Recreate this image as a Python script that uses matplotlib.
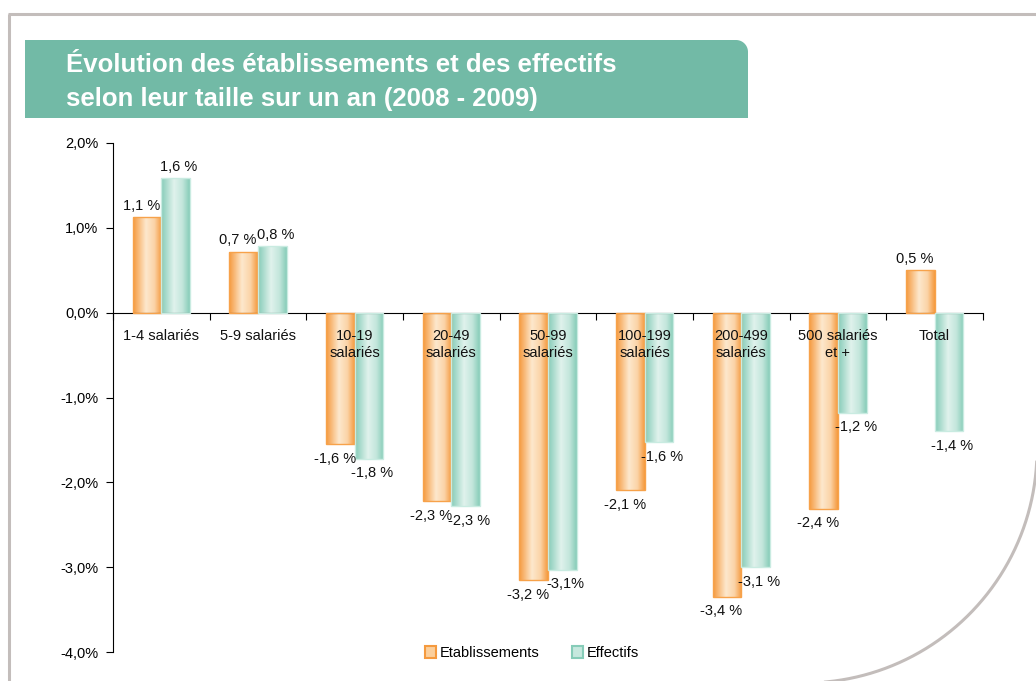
import numpy as np
import matplotlib
matplotlib.use('Agg')
import matplotlib.pyplot as plt
from matplotlib.patches import Rectangle, Patch, PathPatch
from matplotlib.path import Path
from matplotlib.colors import LinearSegmentedColormap

plt.rcParams['font.family'] = ['Liberation Sans', 'DejaVu Sans']

categories = ['1-4 salariés', '5-9 salariés', '10-19\nsalariés', '20-49\nsalariés',
              '50-99\nsalariés', '100-199\nsalariés', '200-499\nsalariés',
              '500 salariés\net +', 'Total']
etablissements = [1.13, 0.72, -1.55, -2.22, -3.15, -2.09, -3.35, -2.31, 0.50]
effectifs = [1.59, 0.78, -1.72, -2.28, -3.03, -1.53, -3.00, -1.18, -1.40]
etab_labels = ['1,1 %', '0,7 %', '-1,6 %', '-2,3 %', '-3,2 %', '-2,1 %', '-3,4 %', '-2,4 %', '0,5 %']
eff_labels = ['1,6 %', '0,8 %', '-1,8 %', '-2,3 %', '-3,1%', '-1,6 %', '-3,1 %', '-1,2 %', '-1,4 %']
y_ticks = [-4, -3, -2, -1, 0, 1, 2]
y_tick_labels = ['-4,0%', '-3,0%', '-2,0%', '-1,0%', '0,0%', '1,0%', '2,0%']

W, H = 1036, 681
FS = 10.5
fig = plt.figure(figsize=(W / 100, H / 100), dpi=100)
fig.patch.set_facecolor('white')

# background layer in pixel coordinates: frame + title band
bg = fig.add_axes([0, 0, 1, 1], zorder=0)
bg.set_xlim(0, W)
bg.set_ylim(H, 0)
bg.axis('off')
frame_col = '#c3bdbb'
bg.plot([9, 9], [14, H + 5], color=frame_col, lw=2.2, solid_capstyle='butt')
bg.plot([8, W + 5], [14, 14], color=frame_col, lw=2.2, solid_capstyle='butt')
t = np.linspace(np.radians(3), np.radians(95), 200)
bg.plot(804 + 233 * np.cos(t), 450 + 233 * np.sin(t), color=frame_col, lw=2.2)

# title band with rounded top-right corner
r = 12
x0, x1, y0, y1 = 25, 748, 40, 118
ang = np.linspace(-np.pi / 2, 0, 20)
verts = [(x0, y1), (x0, y0)] + [(x1 - r + r * np.cos(a), y0 + r + r * np.sin(a)) for a in ang] + [(x1, y1), (x0, y1)]
bg.add_patch(PathPatch(Path(verts), facecolor='#72baa6', edgecolor='none'))
bg.text(66, 65, 'Évolution des établissements et des effectifs', color='white',
        fontsize=18.5, fontweight='bold', va='center', ha='left')
bg.text(66, 99, 'selon leur taille sur un an (2008 - 2009)', color='white',
        fontsize=18.5, fontweight='bold', va='center', ha='left')

ax = fig.add_axes([113 / W, 1 - 652 / H, (983 - 113) / W, (652 - 143) / H], zorder=1)
ax.patch.set_alpha(0)

orange_cmap = LinearSegmentedColormap.from_list(
    'o', [(0, '#f59a3e'), (0.45, '#fde8cd'), (0.75, '#fbd3a6'), (1, '#f59a3e')])
teal_cmap = LinearSegmentedColormap.from_list(
    't', [(0, '#86ccb8'), (0.45, '#e0f2ec'), (0.75, '#c2e6db'), (1, '#86ccb8')])

x = np.arange(len(categories))
bw = 0.295
grad = np.linspace(0, 1, 64).reshape(1, -1)


def gradient_bars(xpos, vals, cmap, edge):
    bars = ax.bar(xpos, vals, bw, facecolor='none', edgecolor=edge, linewidth=1.0, zorder=3)
    for b in bars:
        bx, by = b.get_x(), b.get_y()
        bwid, bh = b.get_width(), b.get_height()
        im = ax.imshow(grad, cmap=cmap, aspect='auto', zorder=2,
                       extent=[bx, bx + bwid, min(by, by + bh), max(by, by + bh)])
        clip = Rectangle((bx, by), bwid, bh, transform=ax.transData)
        im.set_clip_path(clip)
    return bars


gradient_bars(x - bw / 2, etablissements, orange_cmap, '#f7a24a')
gradient_bars(x + bw / 2, effectifs, teal_cmap, '#c9ebe1')

# value labels, nudged apart like the original
for xi, v, lab in zip(x - bw / 2, etablissements, etab_labels):
    ax.annotate(lab, (xi, v), xytext=(-4, 3 if v > 0 else -5.5), textcoords='offset points',
                ha='center', va='bottom' if v > 0 else 'top', fontsize=FS, color='#111111', zorder=6)
for xi, v, lab in zip(x + bw / 2, effectifs, eff_labels):
    ax.annotate(lab, (xi, v), xytext=(2.5, 3 if v > 0 else -5.5), textcoords='offset points',
                ha='center', va='bottom' if v > 0 else 'top', fontsize=FS, color='#111111', zorder=6)

for xi, lab in zip(x, categories):
    ax.annotate(lab, (xi, 0), xytext=(0, -11.5), textcoords='offset points', ha='center',
                va='top', fontsize=FS, linespacing=1.3, color='#111111', zorder=6)

ax.set_xlim(-0.5, len(categories) - 0.5)
ax.set_ylim(-4, 2)
ax.set_yticks(y_ticks)
ax.set_yticklabels(y_tick_labels, fontsize=FS)
ax.tick_params(axis='y', direction='out', length=5, width=0.8, pad=5.5)

ax.spines['top'].set_visible(False)
ax.spines['right'].set_visible(False)
ax.spines['bottom'].set_position(('data', 0))
ax.spines['left'].set_linewidth(0.8)
ax.spines['bottom'].set_linewidth(0.8)
ax.set_xticks(np.arange(len(categories) + 1) - 0.5)
ax.set_xticklabels([])
ax.tick_params(axis='x', direction='out', length=5, width=0.8)

handles = [Patch(facecolor='#fbcf9c', edgecolor='#f59a3e', linewidth=1.5, label='Etablissements'),
           Patch(facecolor='#c6e8de', edgecolor='#86ccb8', linewidth=1.5, label='Effectifs')]
fig.legend(handles=handles, loc='center', bbox_to_anchor=(532 / W, 1 - 653 / H), ncol=2,
           frameon=False, fontsize=FS, handlelength=0.75, handleheight=0.9,
           handletextpad=0.3, columnspacing=2.2)

fig.savefig('out.png', dpi=100)
